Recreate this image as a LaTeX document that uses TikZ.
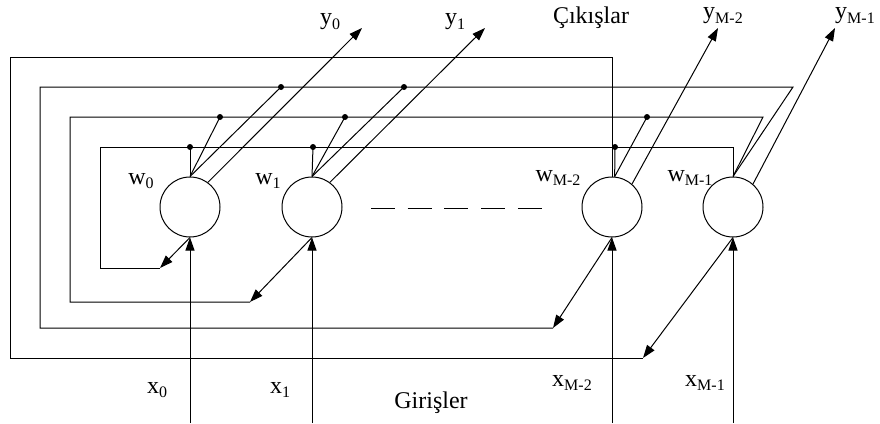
\documentclass[tikz,border=0pt]{standalone}
\usepackage{fontspec}
\setmainfont{Liberation Serif}
\usetikzlibrary{arrows.meta}
\newcommand{\sbx}[1]{\raisebox{-0.2em}{\fontsize{16}{16}\selectfont #1}}
\begin{document}
\begin{tikzpicture}[x=1pt,y=-1pt, line width=1pt,
  neuron/.style={circle,draw,minimum size=60pt,inner sep=0pt,line width=1pt},
  lbl/.style={font=\fontsize{24}{28}\selectfont, inner sep=0pt},
  arr/.style={-{Triangle[length=13pt,width=9pt]}},
  dotn/.style={circle,fill,inner sep=0pt,minimum size=6pt}]
\useasboundingbox (0,0) rectangle (880,423);

% neurons
\node[neuron] (n0) at (190,207) {};
\node[neuron] (n1) at (312,207) {};
\node[neuron] (n2) at (612,207) {};
\node[neuron] (n3) at (733,207) {};

% loop A (outermost)
\draw (n2.north) -- (612,57) -- (10,57) -- (10,358) -- (643,358) coordinate (eA);
\draw[arr] (n3.south) -- (eA);
% loop B
\draw (n3.north) -- (793,87) -- (40,87) -- (40,328) -- (553,328) coordinate (eB);
\draw[arr] (n2.south) -- (eB);
% loop C
\draw (n3.north) -- (763,117) -- (70,117) -- (70,302) -- (250,302) coordinate (eC);
\draw[arr] (n1.south) -- (eC);
% loop D
\draw (n3.north) -- (733,147) -- (100,147) -- (100,268) -- (160,268) coordinate (eD);
\draw[arr] (n0.south) -- (eD);

% junction dots
\node[dotn] (d0) at (190,147) {};
\node[dotn] (c0) at (220,117) {};
\node[dotn] (b0) at (281,87) {};
\node[dotn] (d1) at (313,147) {};
\node[dotn] (c1) at (345,117) {};
\node[dotn] (b1) at (404,87) {};
\node[dotn] (d2) at (615,147) {};
\node[dotn] (c2) at (647,117) {};

\draw (n0.north) -- (d0.center);
\draw (n0.north) -- (c0.center);
\draw (n0.north) -- (b0.center);
\draw (n1.north) -- (d1.center);
\draw (n1.north) -- (c1.center);
\draw (n1.north) -- (b1.center);
\draw (n2.85) -- (d2.center);
\draw (n2.85) -- (c2.center);

% outputs
\coordinate (t0) at (362,28);
\coordinate (t1) at (485,28);
\coordinate (t2) at (718,28);
\coordinate (t3) at (835,28);
\draw[arr] (n0.54) -- (t0);
\draw[arr] (n1.54) -- (t1);
\draw[arr] (n2.49) -- (t2);
\draw[arr] (n3.49) -- (t3);

% inputs
\coordinate (i0) at (190,423);
\coordinate (i1) at (312,423);
\coordinate (i2) at (612,423);
\coordinate (i3) at (733,423);
\draw[arr] (i0) -- (n0.south);
\draw[arr] (i1) -- (n1.south);
\draw[arr] (i2) -- (n2.south);
\draw[arr] (i3) -- (n3.south);

% dashes
\draw[dash pattern=on 24pt off 12.7pt] (371,208) coordinate (da) -- (542,208) coordinate (db);

% labels
\node[lbl] (ly0) at (330,22) {y\sbx{0}};
\node[lbl] (ly1) at (455,22) {y\sbx{1}};
\node[lbl] (lout) at (591,18) {Çıkışlar};
\node[lbl] (ly2) at (723,16) {y\sbx{M-2}};
\node[lbl] (ly3) at (855,16) {y\sbx{M-1}};
\node[lbl] (lw0) at (141,181) {w\sbx{0}};
\node[lbl] (lw1) at (268,181) {w\sbx{1}};
\node[lbl] (lw2) at (558,178) {w\sbx{M-2}};
\node[lbl] (lw3) at (690,178) {w\sbx{M-1}};
\node[lbl] (lx0) at (157,390) {x\sbx{0}};
\node[lbl] (lx1) at (280,390) {x\sbx{1}};
\node[lbl] (lx2) at (572,383) {x\sbx{M-2}};
\node[lbl] (lx3) at (705,383) {x\sbx{M-1}};
\node[lbl] (lin) at (431,403) {Girişler};
\end{tikzpicture}
\end{document}
